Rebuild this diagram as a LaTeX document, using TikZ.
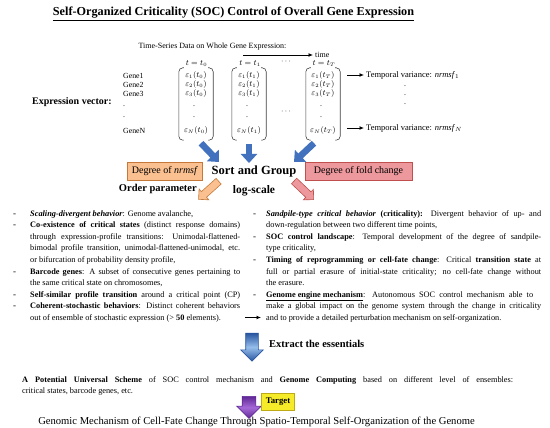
\documentclass[tikz,border=0pt]{standalone}
\usepackage{fontspec}
\setmainfont{Liberation Serif}
\usetikzlibrary{arrows.meta,shapes.arrows,calc}
\definecolor{blueA}{RGB}{66,113,190}
\definecolor{orgF}{RGB}{250,192,144}
\definecolor{orgD}{RGB}{196,121,58}
\definecolor{pinkF}{RGB}{236,152,156}
\definecolor{pinkD}{RGB}{192,80,77}
\definecolor{yelF}{RGB}{245,235,40}
\definecolor{yelD}{RGB}{190,170,20}
\definecolor{bluL}{RGB}{150,190,235}
\definecolor{bluD}{RGB}{40,85,160}
\definecolor{purL}{RGB}{165,105,215}
\definecolor{purD}{RGB}{96,40,150}
\newcommand\fsz[2]{\fontsize{#1}{#2}\selectfont}
\newcommand\jL[1]{\makebox[210pt][s]{#1}}
\newcommand\jR[1]{\makebox[275pt][s]{#1}}
\newcommand\jRb[1]{\makebox[267pt][s]{#1}}
\newcommand\jP[1]{\makebox[491pt][s]{#1}}
\begin{document}
\begin{tikzpicture}[x=1pt,y=-1pt,
  lbl/.style={inner sep=0pt},
  ln/.style={inner sep=0pt, anchor=base west, font=\fsz{8.3}{11.6}},
  dsh/.style={inner sep=0pt, anchor=base west, font=\fsz{9}{11.6}},
  ent/.style={inner sep=0pt, font=\fsz{7.8}{9}},
  gene/.style={inner sep=0pt, anchor=west, font=\fsz{7.8}{9}},
  matbox/.style={minimum width=34pt, minimum height=72pt, inner sep=0pt},
  brk/.style={line width=0.6pt, rounded corners=4pt, black!75},
  bluearr/.style={draw=blueA, line width=6.5pt, -{Triangle[width=16pt,length=9pt]}},
  degbox/.style={draw, line width=0.5pt, minimum height=18pt, inner sep=2pt, font=\fsz{10}{12}},
  sarr/.style n args={4}{single arrow, minimum height=#1, inner xsep=0pt, inner ysep=#2,
     text height=0pt, text depth=0pt, minimum width=#3, single arrow head extend=#4,
     single arrow tip angle=90, line width=0.6pt},
  small/.style={-{Latex[length=4.5pt,width=4pt]}, line width=0.9pt}
]
\useasboundingbox (0,0) rectangle (550,428);

% title
\node[lbl, font=\bfseries\fsz{12.2}{14}] (title) at (233.5,14) {\underline{Self-Organized Criticality (SOC) Control of Overall Gene Expression}};

% time series
\node[lbl, font=\fsz{8}{10}] (tsd) at (212.5,46.5) {Time-Series Data on Whole Gene Expression:};
\coordinate (tstart) at (243,55);
\node[lbl, anchor=base west, font=\fsz{8}{10}] (time) at (315,57.5) {time};
\draw[small, shorten >=2pt] (tstart) -- (time.west |- tstart);

% matrices
\node[matbox] (m0) at (196,104) {};
\node[matbox] (m1) at (249,104) {};
\node[matbox] (m2) at (323,104) {};
\foreach \m in {m0,m1,m2}{
  \draw[brk] ([xshift=5pt]\m.north west) -- (\m.north west) -- (\m.south west) -- ([xshift=5pt]\m.south west);
  \draw[brk] ([xshift=-5pt]\m.north east) -- (\m.north east) -- (\m.south east) -- ([xshift=-5pt]\m.south east);
}
\node[ent] (t0) at (196.5,64) {$t=t_0$};
\node[ent] (t1) at (250,64) {$t=t_1$};
\node[ent] (tT) at (324,64) {$t=t_T$};

% entries
\node[ent] (e01) at (196,75.5) {$\varepsilon_1(t_0)$};
\node[ent] (e02) at (196,84.5) {$\varepsilon_2(t_0)$};
\node[ent] (e03) at (196,94) {$\varepsilon_3(t_0)$};
\node[ent] (e04) at (194,106.5) {.};
\node[ent] (e05) at (194,117.5) {.};
\node[ent] (e0N) at (196,130.5) {$\varepsilon_N(t_0)$};
\node[ent] (e11) at (249,75.5) {$\varepsilon_1(t_1)$};
\node[ent] (e12) at (249,84.5) {$\varepsilon_2(t_1)$};
\node[ent] (e13) at (249,94) {$\varepsilon_3(t_1)$};
\node[ent] (e14) at (247,106.5) {.};
\node[ent] (e15) at (247,117.5) {.};
\node[ent] (e1N) at (249,130.5) {$\varepsilon_N(t_1)$};
\node[ent] (e21) at (323,75.5) {$\varepsilon_1(t_T)$};
\node[ent] (e22) at (323,84.5) {$\varepsilon_2(t_T)$};
\node[ent] (e23) at (323,94) {$\varepsilon_3(t_T)$};
\node[ent] (e24) at (321,106.5) {.};
\node[ent] (e25) at (321,117.5) {.};
\node[ent] (e2N) at (323,130.5) {$\varepsilon_N(t_T)$};

% gene labels
\node[gene] (g1) at (123,75.5) {Gene1};
\node[gene] (g2) at (123,84.5) {Gene2};
\node[gene] (g3) at (123,94) {Gene3};
\node[gene] (g4) at (123,106.5) {.};
\node[gene] (g5) at (123,117.5) {.};
\node[gene] (gN) at (123,130.5) {GeneN};
\node[lbl, font=\bfseries\fsz{10}{12}] (ev) at (72,102) {Expression vector:};

% dots between matrices
\node[ent] (dd1) at (286,62) {$\cdots$};
\node[ent] (dd2) at (286,112) {$\cdots$};

% temporal variance
\node[lbl, anchor=west, font=\fsz{8.5}{10}] (tv1) at (366,75) {Temporal variance: \textit{nrmsf}$_1$};
\node[lbl, anchor=west, font=\fsz{8.5}{10}] (tvN) at (366,128) {Temporal variance: \textit{nrmsf}$_N$};
\draw[small, shorten >=2pt] (m2.east |- tv1.west) ++(7,0) -- (tv1.west);
\draw[small, shorten >=2pt] (m2.east |- tvN.west) ++(7,0) -- (tvN.west);
\node[ent] (vd1) at (405,86) {.};
\node[ent] (vd2) at (405,95) {.};
\node[ent] (vd3) at (405,104) {.};

% sort and group
\node[degbox, fill=orgF, draw=orgD, minimum width=75pt] (nrm) at (165,171) {Degree of \textit{nrmsf}};
\node[lbl, font=\bfseries\fsz{12.5}{14}] (sort) at (254,171) {Sort and Group};
\node[degbox, fill=pinkF, draw=pinkD, minimum width=107pt] (fold) at (358.5,171) {Degree of fold change};
\coordinate (tip0) at (219,162);
\coordinate (tip1) at (249,163);
\coordinate (tip2) at (294,162);
\draw[bluearr] ($(m0.south)+(5,3)$) -- (tip0);
\draw[bluearr] ($(m1.south)+(0,4)$) -- (tip1);
\draw[bluearr] ($(m2.south)+(-9,3)$) -- (tip2);

\node[lbl, anchor=east, font=\bfseries\fsz{10.5}{12}] (order) at (197,188.5) {Order parameter};
\node[lbl, font=\bfseries\fsz{11.5}{13}] (logs) at (254,191) {log-scale};
\node[sarr={27pt}{3.5pt}{14pt}{3.5pt}, fill=orgF, draw=orgD, rotate=222] (oarr) at (210,189) {};
\node[sarr={27pt}{3.5pt}{14pt}{3.5pt}, fill=pinkF, draw=pinkD, rotate=-43.5] (parr) at (302.5,189) {};

% left list
\foreach \k in {1,2,6,8,9}{\node[dsh] (ld\k) at (13,{216+11.6*(\k-1)}) {-};}
\node[ln] (l1) at (30,216) {\textbf{\textit{Scaling-divergent behavior}}: Genome avalanche,};
\node[ln] (l2) at (30,227.6) {\jL{\textbf{Co-existence of critical states} (distinct response domains)}};
\node[ln] (l3) at (30,239.2) {\jL{through expression-profile transitions: Unimodal-flattened-}};
\node[ln] (l4) at (30,250.8) {\jL{bimodal profile transition, unimodal-flattened-unimodal, etc.}};
\node[ln] (l5) at (30,262.4) {or bifurcation of probability density profile,};
\node[ln] (l6) at (30,274) {\jL{\textbf{Barcode genes}: A subset of consecutive genes pertaining to}};
\node[ln] (l7) at (30,285.6) {the same critical state on chromosomes,};
\node[ln] (l8) at (30,297.2) {\jL{\textbf{Self-similar profile transition} around a critical point (CP)}};
\node[ln] (l9) at (30,308.8) {\jL{\textbf{Coherent-stochastic behaviors}: Distinct coherent behaviors}};
\node[ln] (l10) at (30,320.4) {out of ensemble of stochastic expression (> \textbf{50} elements).};

% right list
\foreach \k in {1,3,5,8}{\node[dsh] (rd\k) at (253,{216+11.6*(\k-1)}) {-};}
\node[ln] (r1) at (266,216) {\jR{\textbf{\textit{Sandpile-type critical behavior}} \textbf{(criticality):} Divergent behavior of up- and}};
\node[ln] (r2) at (266,227.6) {down-regulation between two different time points,};
\node[ln] (r3) at (266,239.2) {\jR{\textbf{SOC control landscape}: Temporal development of the degree of sandpile-}};
\node[ln] (r4) at (266,250.8) {type criticality,};
\node[ln] (r5) at (266,262.4) {\jR{\textbf{Timing of reprogramming or cell-fate change}: Critical \textbf{transition state} at}};
\node[ln] (r6) at (266,274) {\jR{full or partial erasure of initial-state criticality; no cell-fate change without}};
\node[ln] (r7) at (266,285.6) {the erasure.};
\node[ln] (r8) at (266,297.2) {\jRb{\underline{\textbf{Genome engine mechanism}}: Autonomous SOC control mechanism able to}};
\node[ln] (r9) at (266,308.8) {\jR{make a global impact on the genome system through the change in criticality}};
\node[ln] (r10) at (266,320.4) {and to provide a detailed perturbation mechanism on self-organization.};

% arrow between columns
\coordinate (ba0) at (245,317.5);
\coordinate (ba1) at (261,317.5);
\draw[small] (ba0) -- (ba1);

% extract
\node[sarr={28pt}{6pt}{22pt}{5pt}, top color=bluD, bottom color=bluD, middle color=bluL, draw=bluD, rotate=-90] (exarr) at (252,344) {};
\node[lbl, anchor=west, font=\bfseries\fsz{10.5}{12}] (extract) at (269,344) {Extract the essentials};

% bottom paragraph
\node[ln] (p1) at (22,382) {\jP{\textbf{A Potential Universal Scheme} of SOC control mechanism and \textbf{Genome Computing} based on different level of ensembles:}};
\node[ln] (p2) at (22,393.6) {critical states, barcode genes, etc.};

% target
\node[sarr={22pt}{6.5pt}{24pt}{5.5pt}, top color=purD, bottom color=purD, middle color=purL, draw=purD, rotate=-90] (parr2) at (249,404) {};
\node[draw=yelD, fill=yelF, line width=0.5pt, minimum width=33pt, minimum height=17pt, inner sep=1pt, font=\bfseries\fsz{8.7}{10}] (target) at (278,401.5) {Target};

% final line
\node[lbl, anchor=base, font=\fsz{10.6}{12}] (final) at (256.5,424.5) {Genomic Mechanism of Cell-Fate Change Through Spatio-Temporal Self-Organization of the Genome};
\end{tikzpicture}
\end{document}
